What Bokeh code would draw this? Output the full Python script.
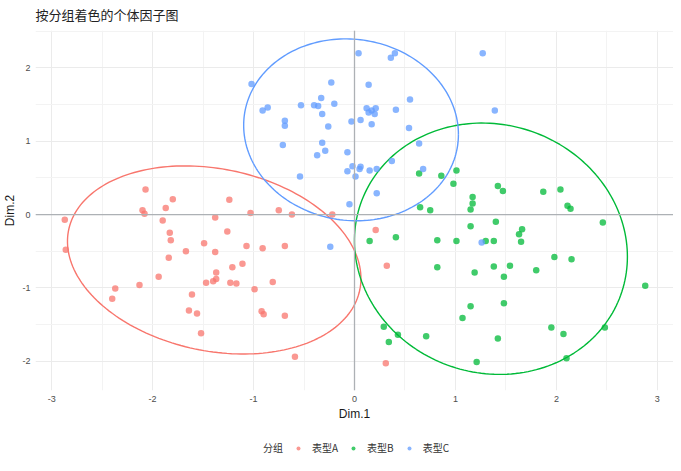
import numpy as np
from bokeh.plotting import figure
from bokeh.layouts import column
from bokeh.models import Range1d, Span, Legend, LegendItem, FixedTicker
from bokeh.embed import file_html
from bokeh.resources import INLINE

# groups and ggplot-like hue colours
groups = ["表型A", "表型B", "表型C"]
colors = ["#F8766D", "#00BA38", "#619CFF"]

# individual coordinates
a_x = [-2.87, -2.07, -2.10, -2.08, -1.87, -1.80, -1.90, -1.83, -1.38, -1.24, -1.26, -1.03, -0.75,
       -0.62, -0.22, -2.86, -1.82, -1.67, -1.49, -1.38, -1.84, -1.94, -2.13, -2.37, -2.40, -1.61,
       -1.64, -1.56, -1.52, -1.47, -1.40, -1.37, -1.37, -1.21, -1.11, -1.07, -1.23, -1.17, -0.99,
       -0.91, -0.69, -0.81, -0.92, -0.90, -0.69, -0.59, 0.21, 0.32, 0.31]
a_y = [-0.07, 0.34, 0.06, 0.01, 0.09, 0.21, -0.08, -0.25, -0.04, 0.20, -0.23, 0.02, 0.06,
       0.00, 0.00, -0.48, -0.35, -0.50, -0.39, -0.51, -0.59, -0.85, -0.96, -1.01, -1.15, -1.09,
       -1.31, -1.35, -1.62, -0.93, -0.91, -0.88, -0.79, -0.72, -0.67, -0.43, -0.93, -0.94, -1.02,
       -0.46, -0.43, -0.92, -1.32, -1.36, -1.38, -1.94, -0.21, -0.70, -2.03]

b_x = [0.65, 0.75, 1.15, 1.17, 1.17, 2.11, 2.14, 1.40, 1.15, 2.46, 0.15, 0.41, 0.82, 1.01,
       1.30, 1.38, 1.63, 1.66, 1.65, 1.98, 2.15, 0.82, 1.19, 1.38, 1.54, 1.48, 1.80, 2.88,
       1.15, 1.48, 1.07, 0.29, 0.43, 0.34, 0.71, 1.42, 1.95, 2.07, 2.48, 2.10, 1.21, 0.64,
       0.86, 1.01, 0.98, 1.42, 1.47, 1.87, 2.04]
b_y = [0.10, 0.06, 0.07, 0.15, 0.24, 0.12, 0.08, -0.10, -0.16, -0.11, -0.36, -0.31, -0.35, -0.36,
       -0.36, -0.36, -0.27, -0.20, -0.37, -0.58, -0.61, -0.72, -0.79, -0.71, -0.70, -0.85, -0.76, -0.97,
       -1.25, -1.21, -1.41, -1.53, -1.64, -1.74, -1.66, -1.69, -1.54, -1.63, -1.54, -1.96, -2.01, 0.56,
       0.53, 0.60, 0.42, 0.39, 0.32, 0.31, 0.34]

c_x = [-1.02, -0.91, -0.86, -0.69, -0.69, -0.71, -0.53, -0.40, -0.36, -0.33, -0.32, -0.26, -0.32,
       -0.29, -0.37, -0.54, -0.23, -0.20, -0.24, -0.05, 1.26, 0.04, 0.36, 0.40, 1.27, 0.14, 0.55,
       0.12, 0.14, 0.17, 0.21, 0.20, 0.41, 1.39, -0.03, 0.06, 0.17, 0.54, 0.64, -0.07, 0.37, -0.02,
       0.06, 0.05, -0.07, 0.01, 0.15, 0.22, 0.68, 0.22]
c_y = [1.78, 1.42, 1.46, 1.28, 1.21, 0.95, 1.49, 1.49, 1.48, 1.59, 1.37, 1.20, 0.98,
       0.87, 0.81, 0.52, 1.80, 1.51, -0.44, 0.14, -0.38, 2.20, 2.14, 2.20, 2.20, 1.77, 1.57,
       1.45, 1.39, 1.42, 1.45, 1.37, 1.43, 1.42, 1.27, 1.29, 1.23, 1.18, 0.97, 0.85, 0.73, 0.66,
       0.65, 0.62, 0.59, 0.52, 0.60, 0.62, 0.62, 0.29]

xs = [a_x, b_x, c_x]
ys = [a_y, b_y, c_y]

x_ticks = [-3, -2, -1, 0, 1, 2, 3]
y_ticks = [-2, -1, 0, 1, 2]


def cov_trob(pts, nu=5, maxit=25, tol=0.01):
    # multivariate t fit, same steps as MASS::cov.trob
    x = np.asarray(pts, float)
    n, p = x.shape
    wt = np.ones(n)
    loc = x.mean(axis=0)
    w = np.sqrt(wt)
    for _ in range(maxit):
        w0 = w
        X = x - loc
        s = np.sqrt(w / w.sum())[:, None] * X
        _, d, vt = np.linalg.svd(s, full_matrices=False)
        wX = X @ vt.T @ np.diag(1 / d)
        Q = (wX ** 2).sum(axis=1)
        w = (wt * (nu + p)) / (nu + Q)
        loc = (w[:, None] * x).sum(axis=0) / w.sum()
        if np.all(np.abs(w - w0) < tol):
            break
    sX = np.sqrt(w)[:, None] * X
    return loc, sX.T @ sX / wt.sum()


def ellipse(px, py, level=0.95, seg=200):
    pts = np.column_stack([px, py])
    center, shape = cov_trob(pts)
    dfd = len(px) - 1
    qf = dfd / 2 * ((1 - level) ** (-2 / dfd) - 1)  # F(2, dfd) quantile
    radius = np.sqrt(2 * qf)
    t = np.linspace(0, 2 * np.pi, seg)
    circle = np.column_stack([np.cos(t), np.sin(t)])
    e = center + radius * circle @ np.linalg.cholesky(shape).T
    return e[:, 0], e[:, 1]


p = figure(frame_width=638, frame_height=360, output_backend="svg", toolbar_location=None,
           x_range=Range1d(-3.16, 3.16), y_range=Range1d(-2.40, 2.51),
           title="按分组着色的个体因子图",
           min_border_left=0, min_border_right=0, min_border_top=0, min_border_bottom=0)

p.title.text_font = "Noto Sans CJK SC"
p.title.text_font_size = "13px"
p.title.text_font_style = "normal"
p.title.text_color = "#222222"
p.title.standoff = 9
p.title.vertical_align = "top"
p.outline_line_color = None

p.xaxis.ticker = FixedTicker(ticks=x_ticks, minor_ticks=[-2.5, -1.5, -0.5, 0.5, 1.5, 2.5])
p.yaxis.ticker = FixedTicker(ticks=y_ticks, minor_ticks=[-1.5, -0.5, 0.5, 1.5, 2.5])
p.xaxis.major_label_overrides = {t: str(t) for t in x_ticks}
p.yaxis.major_label_overrides = {t: str(t) for t in y_ticks}
p.xaxis.axis_label = "Dim.1"
p.yaxis.axis_label = "Dim.2"
for ax in (p.xaxis, p.yaxis):
    ax.axis_line_color = None
    ax.major_tick_line_color = None
    ax.minor_tick_line_color = None
    ax.major_tick_out = 0
    ax.major_tick_in = 0
    ax.minor_tick_out = 0
    ax.minor_tick_in = 0
    ax.major_label_text_font = "Liberation Sans"
    ax.major_label_text_font_size = "9px"
    ax.major_label_text_color = "#4D4D4D"
    ax.axis_label_text_font = "Liberation Sans"
    ax.axis_label_text_font_size = "12px"
    ax.axis_label_text_font_style = "normal"
    ax.axis_label_text_color = "#1a1a1a"
    ax.axis_label_standoff = 2
    ax.major_label_standoff = 5

p.grid.grid_line_color = "#EBEBEB"
p.grid.minor_grid_line_color = "#F3F3F3"

p.add_layout(Span(location=0, dimension="width", line_color="#ADB1B5", line_width=1.3))
p.add_layout(Span(location=0, dimension="height", line_color="#ADB1B5", line_width=1.3))

for col, gx, gy in zip(colors, xs, ys):
    p.scatter(gx, gy, size=6.5, fill_color=col, fill_alpha=0.75, line_color=None)
    ex, ey = ellipse(gx, gy)
    p.line(ex, ey, line_color=col, line_width=1.4)

# legend strip under the chart: "分组" then one key per group
# (ranges are far from the data so only the legend keys show)
lf = figure(width=665, height=36, output_backend="svg", toolbar_location=None,
            x_range=Range1d(10, 11), y_range=Range1d(10, 11),
            min_border_left=0, min_border_right=0, min_border_top=0, min_border_bottom=0)
lf.axis.visible = False
lf.grid.visible = False
lf.outline_line_color = None

title_r = lf.scatter(a_x, a_y, fill_color=None, line_color=None)
items = [LegendItem(label="分组", renderers=[title_r])]
for g, col, gx, gy in zip(groups, colors, xs, ys):
    r = lf.scatter(gx, gy, size=6.5, fill_color=col, fill_alpha=0.75, line_color=None)
    items.append(LegendItem(label=g, renderers=[r]))

legend = Legend(items=items, orientation="horizontal", location=(209, 4),
                label_text_font="Noto Sans CJK SC", label_text_font_size="10px",
                label_text_color="#333333", glyph_width=10, glyph_height=12,
                label_standoff=9, spacing=10, border_line_color=None,
                background_fill_alpha=0, padding=0, margin=0)
lf.add_layout(legend)

page = column(p, lf, spacing=0)
open("out.html", "w").write(file_html(page, INLINE))
